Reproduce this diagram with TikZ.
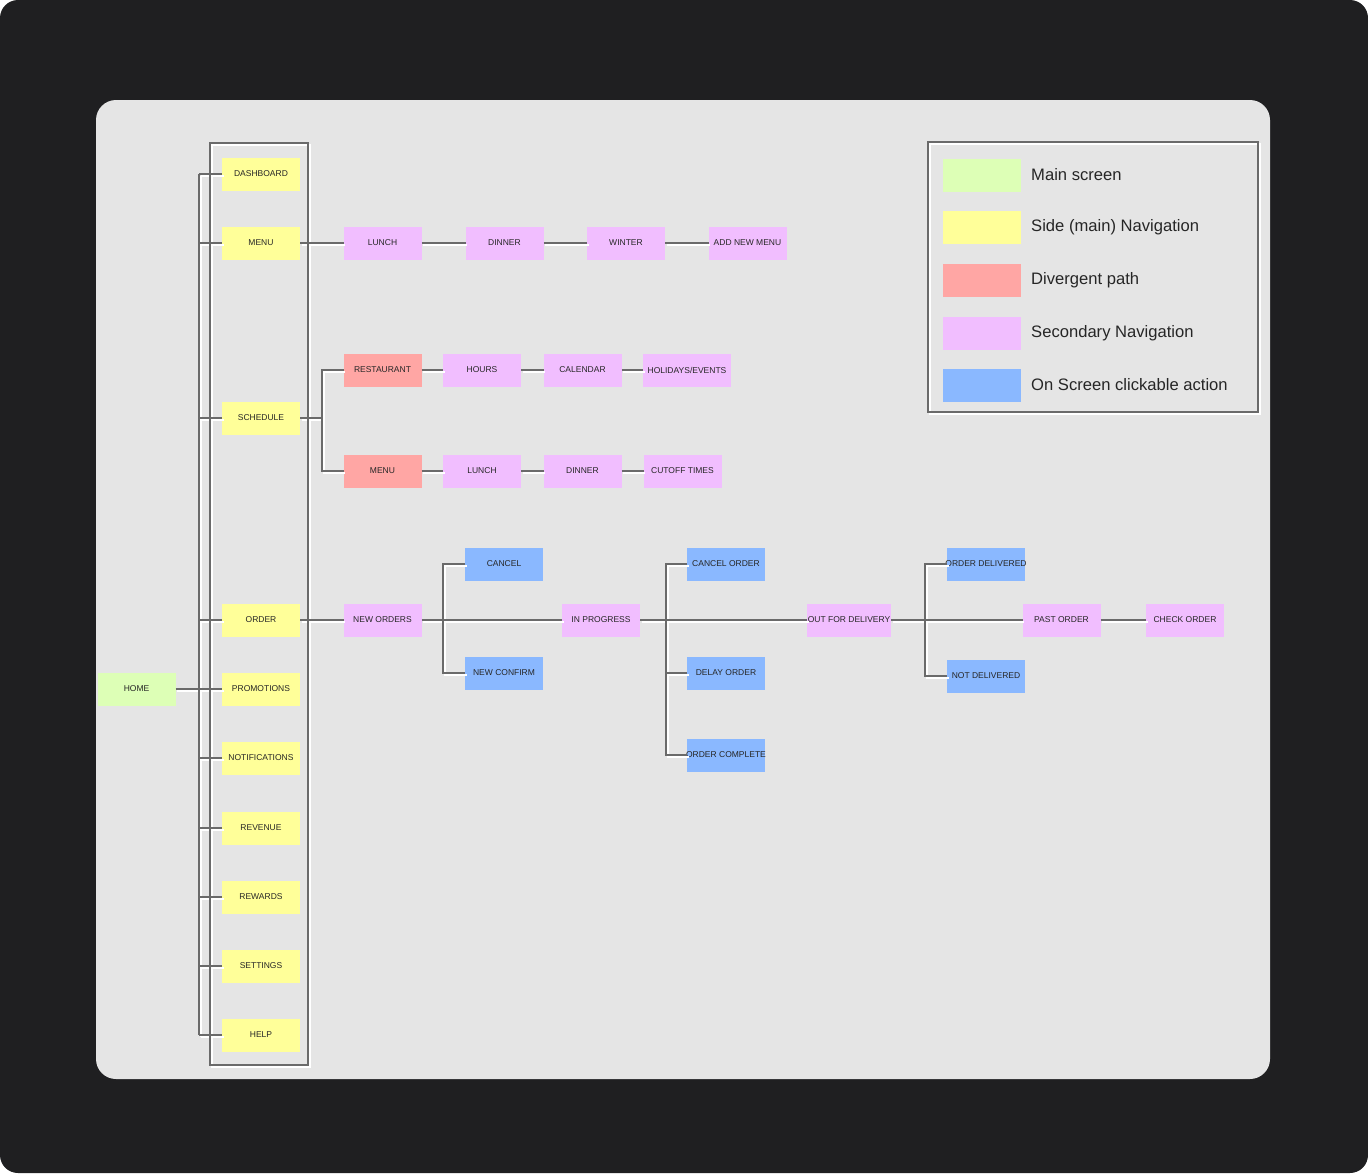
\documentclass[tikz,border=0pt]{standalone}
\usepackage{fontspec}
\setmainfont{Liberation Sans}
\definecolor{darkbg}{HTML}{1F1F21}
\definecolor{panel}{HTML}{E5E5E5}
\definecolor{cgreen}{HTML}{DDFFB6}
\definecolor{cyellow}{HTML}{FFFF99}
\definecolor{cred}{HTML}{FFA6A4}
\definecolor{cpink}{HTML}{F1BEFF}
\definecolor{cblue}{HTML}{8AB8FF}
\definecolor{lineg}{HTML}{6A6A6A}
\newcommand{\allconns}{%
\draw[conn] (dash.west -| bus) -- (help.west -| bus);
\foreach \n in {dash,menu,sched,ord,prom,noti,rev,rew,sett,help}
  \draw[conn] (\n.west -| bus) -- (\n.west);
\draw[conn] (home.east) -- (prom.west);
\draw[conn] (menu.east) -- (lunch.west);
\draw[conn] (lunch.east) -- (dinner.west);
\draw[conn] (dinner.east) -- (winter.west);
\draw[conn] (winter.east) -- (addmenu.west);
\draw[conn] (sched.east) -- (sj);
\draw[conn] (rest.west) -| (sj) |- (smenu.west);
\draw[conn] (rest.east) -- (hours.west);
\draw[conn] (hours.east) -- (cal.west);
\draw[conn] (cal.east) -- (hol.west);
\draw[conn] (smenu.east) -- (slunch.west);
\draw[conn] (slunch.east) -- (sdinner.west);
\draw[conn] (sdinner.east) -- (cutoff.west);
\draw[conn] (ord.east) -- (nord.west);
\draw[conn] (cancel.west) -| (j1) |- (nconf.west);
\draw[conn] (nord.east) -- (inprog.west);
\draw[conn] (cord.west) -| (j2) |- (ocomp.west);
\draw[conn] (dord.west) -| (j2);
\draw[conn] (inprog.east) -- (ofd.west);
\draw[conn] (odel.west) -| (j3) |- (ndel.west);
\draw[conn] (ofd.east) -- (past.west);
\draw[conn] (past.east) -- (check.west);
\draw[conn] (210,143) rectangle (308,1065);
\draw[conn] (928,142) rectangle (1258,412);
}
\begin{document}
\begin{tikzpicture}[x=1pt,y=-1pt,
  box/.style={minimum width=78pt, minimum height=33pt, inner sep=1pt, outer sep=0pt,
    font=\fontsize{8.5}{9}\selectfont, text=black!85},
  mainscr/.style={box, fill=cgreen},
  sidenav/.style={box, fill=cyellow},
  diverge/.style={box, fill=cred},
  secnav/.style={box, fill=cpink},
  clickact/.style={box, fill=cblue},
  halo/.style={draw=white, line width=1.8pt, transform canvas={shift={(1.8pt,-1.8pt)}}},
  grayline/.style={draw=lineg, line width=1.7pt},
  swatch/.style={minimum width=78pt, minimum height=33pt, inner sep=0pt},
  legtext/.style={anchor=west, font=\fontsize{16.6}{18}\selectfont, text=black!85, inner sep=0pt}
]
\useasboundingbox (0,0) rectangle (1368,1173);
\fill[white] (0,0) rectangle (1368,1173);
\fill[darkbg, rounded corners=18pt] (0,0) rectangle (1368,1173);
\fill[panel, rounded corners=20pt] (96,100) rectangle (1270,1079);

% coordinates
\coordinate (bus) at (199,0);
\coordinate (sj) at (322,418);
\coordinate (j1) at (443,620);
\coordinate (j2) at (666,620);
\coordinate (j3) at (925,620);

% nodes: side navigation
\node[mainscr] (home) at (136.5,689) {HOME};
\node[sidenav] (dash) at (261,174) {DASHBOARD};
\node[sidenav] (menu) at (261,243) {MENU};
\node[sidenav] (sched) at (261,418) {SCHEDULE};
\node[sidenav] (ord) at (261,620) {ORDER};
\node[sidenav] (prom) at (261,689) {PROMOTIONS};
\node[sidenav] (noti) at (261,758) {NOTIFICATIONS};
\node[sidenav] (rev) at (261,828) {REVENUE};
\node[sidenav] (rew) at (261,897) {REWARDS};
\node[sidenav] (sett) at (261,966) {SETTINGS};
\node[sidenav] (help) at (261,1035) {HELP};

% menu row
\node[secnav] (lunch) at (382.5,243) {LUNCH};
\node[secnav] (dinner) at (504.5,243) {DINNER};
\node[secnav] (winter) at (626,243) {WINTER};
\node[secnav] (addmenu) at (747.5,243) {ADD NEW MENU};

% schedule
\node[diverge] (rest) at (382.5,370) {RESTAURANT};
\node[secnav] (hours) at (482,370) {HOURS};
\node[secnav] (cal) at (582.5,370) {CALENDAR};
\node[secnav, minimum width=88pt] (hol) at (687,370) {HOLIDAYS/EVENTS};
\node[diverge] (smenu) at (382.5,471) {MENU};
\node[secnav] (slunch) at (482,471) {LUNCH};
\node[secnav] (sdinner) at (582.5,471) {DINNER};
\node[secnav] (cutoff) at (682.5,471) {CUTOFF TIMES};

% order
\node[secnav] (nord) at (382.5,620) {NEW ORDERS};
\node[clickact] (cancel) at (504,564) {CANCEL};
\node[clickact] (nconf) at (504,673) {NEW CONFIRM};
\node[secnav] (inprog) at (601,620) {IN PROGRESS};
\node[clickact] (cord) at (726,564) {CANCEL ORDER};
\node[clickact] (dord) at (726,673) {DELAY ORDER};
\node[clickact] (ocomp) at (726,755) {\makebox[0pt][c]{ORDER COMPLETE}};
\node[secnav, minimum width=84pt] (ofd) at (849,620) {OUT FOR DELIVERY};
\node[clickact] (odel) at (986,564) {\makebox[0pt][c]{ORDER DELIVERED}};
\node[clickact] (ndel) at (986,676) {NOT DELIVERED};
\node[secnav] (past) at (1061.5,620) {PAST ORDER};
\node[secnav] (check) at (1185,620) {CHECK ORDER};

% connectors: white offset highlight first, then gray lines
\tikzset{conn/.style={halo}}
\allconns
\tikzset{conn/.style={grayline}}
\allconns

% legend
\node[swatch, fill=cgreen] (lg1) at (982,175) {};
\node[swatch, fill=cyellow] (lg2) at (982,227) {};
\node[swatch, fill=cred] (lg3) at (982,280) {};
\node[swatch, fill=cpink] (lg4) at (982,333) {};
\node[swatch, fill=cblue] (lg5) at (982,385) {};
\node[legtext] (lt1) at (1031,175) {Main screen};
\node[legtext] (lt2) at (1031,227) {Side (main) Navigation};
\node[legtext] (lt3) at (1031,280) {Divergent path};
\node[legtext] (lt4) at (1031,333) {Secondary Navigation};
\node[legtext] (lt5) at (1031,385) {On Screen clickable action};
\end{tikzpicture}
\end{document}
